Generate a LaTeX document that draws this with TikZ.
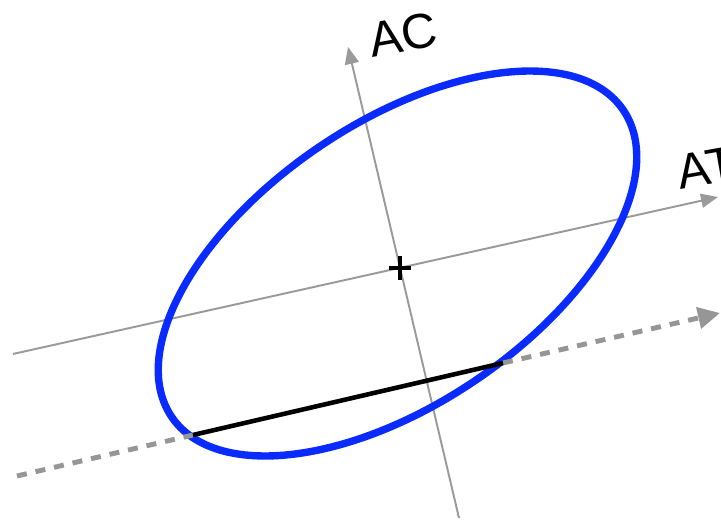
\documentclass[tikz,border=0pt]{standalone}
\usepackage{fontspec}
\setmainfont{Liberation Sans}
\usetikzlibrary{arrows.meta}
\definecolor{Axis}{HTML}{9A9A9A}
\definecolor{Trace}{HTML}{969696}
\definecolor{Ring}{HTML}{0A2BFF}
\tikzset{
  axisline/.style={-{Triangle[length=3.4mm,width=2.8mm]},line width=1.1pt,draw=Axis},
  traceline/.style={line width=2.8pt,draw=Trace,dash pattern=on 2mm off 1.8mm},
  tracearrow/.style={traceline,-{Triangle[length=4.4mm,width=4.2mm]}},
  ringline/.style={line width=4.2pt,draw=Ring},
  chordline/.style={line width=2.6pt,draw=black},
  axislabel/.style={font=\fontsize{28}{32}\selectfont,rotate=10,inner sep=0pt,text=black},
}
\begin{document}
\begin{tikzpicture}[x=1cm,y=1cm]
    \useasboundingbox[fill=white] (0,0) rectangle (14.42,10.46);

    % axes
    \coordinate (acfoot) at (9.18,0.10);
    \coordinate (actip) at (6.96,9.52);
    \coordinate (atfoot) at (0.26,3.38);
    \coordinate (attip) at (14.36,6.52);
    \coordinate (origin) at (8.00,5.10);
    \draw[axisline] (acfoot) -- (actip);
    \draw[axisline] (atfoot) -- (attip);
    \node[axislabel] (aclabel) at (8.06,9.76) {AC};
    \node[axislabel] (atlabel) at (14.14,7.10) {AT};

    % ellipse
    \coordinate (centre) at (7.95,5.19);
    \draw[ringline,rotate around={34.2:(centre)}] (centre) ellipse [x radius=5.46cm,y radius=2.81cm];

    % cut line and chord
    \coordinate (cutfoot) at (0.34,0.94);
    \coordinate (cutleft) at (3.86,1.76);
    \coordinate (cutright) at (10.06,3.20);
    \coordinate (cuttip) at (14.40,4.20);
    \draw[traceline] (cutfoot) -- (cutleft);
    \draw[tracearrow] (cutright) -- (cuttip);
    \draw[chordline] (cutleft) -- (cutright);

    % centre mark
    \draw[black,line width=1.8pt] ([xshift=-2.2mm]origin) -- ([xshift=2.2mm]origin);
    \draw[black,line width=1.8pt] ([yshift=-2.4mm]origin) -- ([yshift=2.4mm]origin);
  \end{tikzpicture}
\end{document}
